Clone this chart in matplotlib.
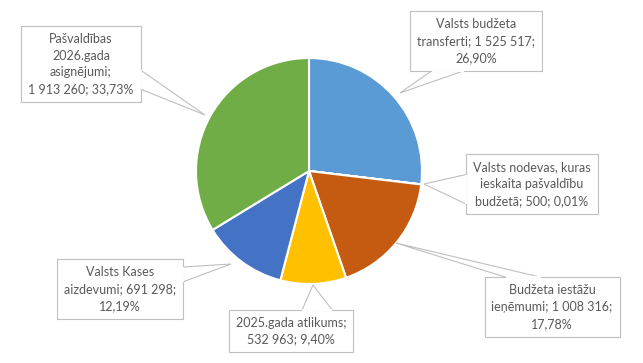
import matplotlib.pyplot as plt
from matplotlib.patches import Polygon

W, H = 643, 363

names = ['Valsts budžeta transferti', 'Valsts nodevas, kuras ieskaita pašvaldību budžetā',
         'Budžeta iestāžu ieņēmumi', '2025.gada atlikums', 'Valsts Kases aizdevumi',
         'Pašvaldības 2026.gada asignējumi']
values = [1525517, 500, 1008316, 532963, 691298, 1913260]
colors = ['#5B9BD5', '#A5A5A5', '#C55A11', '#FFC000', '#4472C4', '#70AD47']

# label layout (line breaks as in the original), {v} value, {p} percent
label_fmt = ['Valsts budžeta\ntransferti; {v};\n{p}',
             'Valsts nodevas, kuras\nieskaita pašvaldību\nbudžetā; {v}; {p}',
             'Budžeta iestāžu\nieņēmumi; {v};\n{p}',
             '2025.gada atlikums;\n{v}; {p}',
             'Valsts Kases\naizdevumi; {v};\n{p}',
             'Pašvaldības\n2026.gada\nasignējumi;\n{v}; {p}']
# label centres and callout tips, in pixels from top-left
label_pos = [(476, 41), (532, 184), (552, 307), (291, 331), (120, 289), (81, 64)]
tip_pos = [(400, 93), (424, 184), (396, 243), (313, 285), (231, 264), (205, 115)]
# which box edge the callout leaves from, and the span along it (0..1, left->right / top->bottom)
tip_edge = ['bottom', 'left', 'top', 'top', 'right', 'right']
tip_span = [(0.165, 0.41), (0.34, 0.84), (0.16, 0.42), (0.59, 0.83), (0.13, 0.38), (0.58, 0.83)]

plt.rcParams['font.family'] = ['Lato', 'DejaVu Sans']

fig = plt.figure(figsize=(W / 100, H / 100), dpi=100)
ax = fig.add_axes([0, 0, 1, 1])

cx, cy, r = 309, 171, 113
ax.pie(values, colors=colors, startangle=90, counterclock=False,
       center=(cx, H - cy), radius=r,
       wedgeprops=dict(edgecolor='white', linewidth=1.5))
ax.set_xlim(0, W)
ax.set_ylim(0, H)
ax.set_aspect('equal')
ax.axis('off')

total = sum(values)
texts = []
for i, v in enumerate(values):
    vs = '{:,}'.format(v).replace(',', ' ')
    ps = '{:.2f}%'.format(100 * v / total).replace('.', ',')
    lx, ly = label_pos[i]
    t = ax.text(lx, H - ly, label_fmt[i].format(v=vs, p=ps),
                ha='center', va='center', fontsize=9, color='#595959',
                linespacing=1.48, zorder=5,
                bbox=dict(boxstyle='square,pad=0.55', fc='white', ec='#BFBFBF', lw=0.8))
    texts.append(t)

fig.canvas.draw()
inv = ax.transData.inverted()
for i, t in enumerate(texts):
    bb = t.get_bbox_patch().get_window_extent()
    (x0, y0), (x1, y1) = inv.transform([(bb.x0, bb.y0), (bb.x1, bb.y1)])
    a, b = tip_span[i]
    if tip_edge[i] == 'bottom':
        p1, p2 = (x0 + a * (x1 - x0), y0), (x0 + b * (x1 - x0), y0)
    elif tip_edge[i] == 'top':
        p1, p2 = (x0 + a * (x1 - x0), y1), (x0 + b * (x1 - x0), y1)
    elif tip_edge[i] == 'left':
        p1, p2 = (x0, y1 - a * (y1 - y0)), (x0, y1 - b * (y1 - y0))
    else:
        p1, p2 = (x1, y1 - a * (y1 - y0)), (x1, y1 - b * (y1 - y0))
    tx, ty = tip_pos[i]
    ax.add_patch(Polygon([p1, (tx, H - ty), p2], closed=True, fc='white',
                         ec='#BFBFBF', lw=0.8, zorder=4))
    # hide the box border where the callout joins it
    ax.plot([p1[0], p2[0]], [p1[1], p2[1]], color='white', lw=1.4,
            solid_capstyle='butt', zorder=6)

fig.savefig('out.png', dpi=100, facecolor='white')
